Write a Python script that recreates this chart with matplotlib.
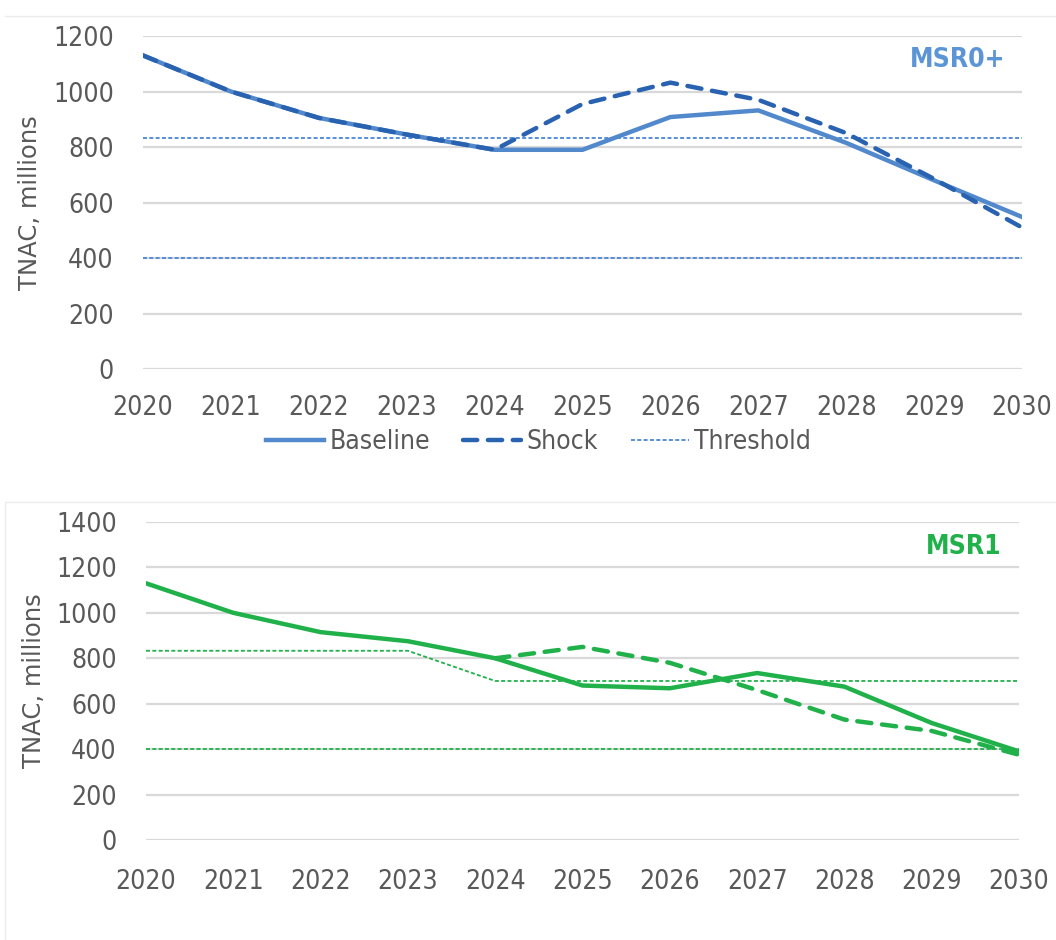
import matplotlib
matplotlib.use("Agg")
import matplotlib.pyplot as plt
from matplotlib.lines import Line2D
from matplotlib.patches import Rectangle

# Data

years = [2020, 2021, 2022, 2023, 2024, 2025, 2026, 2027, 2028, 2029, 2030]

msr0_baseline = [1130, 1000, 905, 845, 790, 790, 908, 932, 815, 680, 548]
msr0_shock = [1130, 1000, 905, 845, 790, 955, 1032, 970, 850, 685, 510]
msr0_thr_upper = [833] * 11
msr0_thr_lower = [400] * 11

msr1_baseline = [1130, 1000, 915, 875, 800, 680, 668, 735, 675, 515, 390]
msr1_shock_years = [2024, 2025, 2026, 2027, 2028, 2029, 2030]
msr1_shock = [800, 850, 780, 660, 530, 480, 375]
msr1_thr_upper = [833, 833, 833, 833, 700, 700, 700, 700, 700, 700, 700]
msr1_thr_lower = [400] * 11

TEXT = "#595959"
GRID = "#D9D9D9"
tick_font = ["DejaVu Sans"]
THR_STYLE = (0, (2.2, 1.3))
SHOCK_STYLE = (0, (3.2, 2.4))

fig = plt.figure(figsize=(10.56, 9.4), dpi=100)

ax1 = fig.add_axes([0.1354, 0.6074, 0.8324, 0.3543])
ax2 = fig.add_axes([0.1383, 0.1064, 0.8267, 0.3383])


def style_axis(ax, ymax, label_x, xpad):
    ax.set_xlim(2020, 2030)
    ax.set_ylim(0, ymax)
    ax.set_yticks(range(0, ymax + 1, 200))
    ax.set_xticks(years)
    ax.grid(axis="y", color=GRID, linewidth=1.6, zorder=0)
    ax.set_axisbelow(True)
    for s in ax.spines.values():
        s.set_visible(False)
    ax.tick_params(length=0, labelsize=19, colors=TEXT, pad=xpad)
    ax.tick_params(axis="y", pad=21)
    for lab in ax.get_xticklabels() + ax.get_yticklabels():
        lab.set_family(tick_font)
        lab.set_stretch("condensed")
    ax.set_ylabel("TNAC, millions", fontsize=17.5, color=TEXT)
    ax.yaxis.set_label_coords(label_x, 0.5)


# top panel: MSR0+
blue_base = "#5189CC"
blue_shock = "#2862B0"
blue_thr = "#4A86D4"

style_axis(ax1, 1200, -0.115, 19)
ax1.plot(years, msr0_thr_upper, color=blue_thr, lw=1.3, ls=THR_STYLE, label="Threshold", zorder=2)
ax1.plot(years, msr0_thr_lower, color=blue_thr, lw=1.3, ls=THR_STYLE, zorder=2)
ax1.plot(years, msr0_baseline, color=blue_base, lw=3.2, label="Baseline", zorder=3)
ax1.plot(years, msr0_shock, color=blue_shock, lw=3.2, ls=SHOCK_STYLE, dash_capstyle="round",
         label="Shock", zorder=4)
ax1.text(0.981, 0.928, "MSR0+", transform=ax1.transAxes, ha="right", va="center",
         fontsize=19, fontweight="bold", color="#5B95D5", family=tick_font, stretch="condensed")

handles, labels = ax1.get_legend_handles_labels()
order = [1, 2, 0]
leg = fig.legend([handles[i] for i in order], [labels[i] for i in order],
                 loc="center", bbox_to_anchor=(0.51, 0.530), ncol=3, frameon=False,
                 handlelength=2.2, columnspacing=1.25, handletextpad=0.2,
                 prop={"family": tick_font, "size": 19, "stretch": "condensed"})
for t in leg.get_texts():
    t.set_color(TEXT)

# bottom panel: MSR1
green = "#21B14B"

style_axis(ax2, 1400, -0.1145, 21)
ax2.plot(years, msr1_thr_upper, color=green, lw=1.3, ls=THR_STYLE, zorder=2)
ax2.plot(years, msr1_thr_lower, color=green, lw=1.3, ls=THR_STYLE, zorder=2)
ax2.plot(years, msr1_baseline, color=green, lw=3.2, zorder=3)
ax2.plot(msr1_shock_years, msr1_shock, color=green, lw=3.2, ls=SHOCK_STYLE,
         dash_capstyle="round", zorder=4)
ax2.text(0.98, 0.922, "MSR1", transform=ax2.transAxes, ha="right", va="center",
         fontsize=19, fontweight="bold", color=green, family=tick_font, stretch="condensed")

# faint chart frames as in the source
fig.add_artist(Line2D([0.005, 1.0], [1 - 16 / 940, 1 - 16 / 940], color="#EBEBEB", lw=1))
fig.add_artist(Rectangle((0.005, -0.01), 1.0, 1 - 502 / 940 + 0.01, fill=False,
                         edgecolor="#EBEBEB", lw=1))

fig.savefig("out.png", dpi=100)
